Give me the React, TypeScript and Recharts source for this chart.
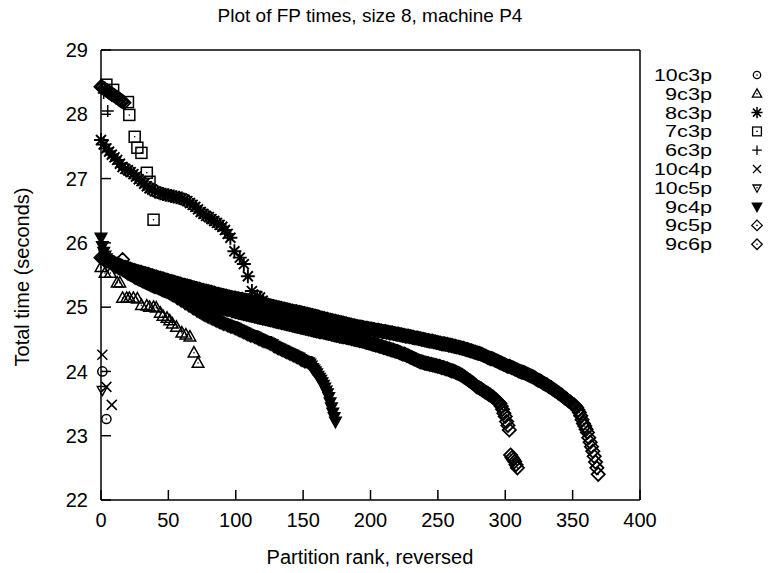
import React from "react"
import { ScatterChart, Scatter, XAxis, YAxis, Customized } from "recharts"

const FONT = "'Liberation Sans', Arial, Helvetica, sans-serif"

const xTicks = [0, 50, 100, 150, 200, 250, 300, 350, 400]
const yTicks = [22, 23, 24, 25, 26, 27, 28, 29]

// long series: one time per rank (rank = index)
const times9c6p = [
  25.77, 25.76, 25.75, 25.74, 25.73, 25.72, 25.72, 25.71, 25.70, 25.69,
  25.68, 25.67, 25.67, 25.66, 25.65, 25.64, 25.74, 25.62, 25.62, 25.61,
  25.60, 25.59, 25.59, 25.58, 25.57, 25.57, 25.56, 25.55, 25.55, 25.54,
  25.54, 25.53, 25.52, 25.52, 25.51, 25.51, 25.50, 25.49, 25.49, 25.48,
  25.47, 25.47, 25.46, 25.45, 25.45, 25.44, 25.44, 25.43, 25.42, 25.42,
  25.41, 25.40, 25.40, 25.39, 25.39, 25.38, 25.37, 25.37, 25.36, 25.36,
  25.35, 25.34, 25.34, 25.33, 25.33, 25.32, 25.32, 25.31, 25.30, 25.30,
  25.29, 25.29, 25.28, 25.28, 25.27, 25.26, 25.26, 25.25, 25.25, 25.24,
  25.24, 25.23, 25.23, 25.22, 25.22, 25.21, 25.20, 25.20, 25.19, 25.19,
  25.18, 25.18, 25.17, 25.17, 25.16, 25.16, 25.15, 25.15, 25.14, 25.14,
  25.14, 25.13, 25.13, 25.12, 25.12, 25.12, 25.11, 25.11, 25.10, 25.10,
  25.10, 25.09, 25.09, 25.08, 25.08, 25.07, 25.07, 25.06, 25.06, 25.05,
  25.05, 25.04, 25.04, 25.03, 25.03, 25.02, 25.02, 25.01, 25.01, 25.00,
  25.00, 24.99, 24.99, 24.98, 24.98, 24.97, 24.97, 24.96, 24.96, 24.95,
  24.95, 24.94, 24.94, 24.93, 24.93, 24.93, 24.92, 24.92, 24.91, 24.91,
  24.90, 24.90, 24.89, 24.89, 24.88, 24.88, 24.87, 24.87, 24.86, 24.86,
  24.85, 24.85, 24.84, 24.83, 24.83, 24.82, 24.82, 24.81, 24.81, 24.80,
  24.80, 24.79, 24.79, 24.78, 24.78, 24.77, 24.77, 24.76, 24.76, 24.75,
  24.75, 24.74, 24.74, 24.73, 24.73, 24.72, 24.72, 24.71, 24.71, 24.70,
  24.70, 24.69, 24.69, 24.69, 24.68, 24.68, 24.67, 24.67, 24.67, 24.66,
  24.66, 24.66, 24.65, 24.65, 24.64, 24.64, 24.64, 24.63, 24.63, 24.62,
  24.62, 24.62, 24.61, 24.61, 24.60, 24.60, 24.60, 24.59, 24.59, 24.58,
  24.58, 24.58, 24.57, 24.57, 24.56, 24.56, 24.55, 24.55, 24.55, 24.54,
  24.54, 24.53, 24.53, 24.52, 24.52, 24.52, 24.51, 24.51, 24.50, 24.50,
  24.49, 24.49, 24.48, 24.48, 24.47, 24.47, 24.47, 24.46, 24.46, 24.45,
  24.45, 24.44, 24.44, 24.43, 24.43, 24.43, 24.42, 24.42, 24.41, 24.41,
  24.40, 24.40, 24.39, 24.39, 24.38, 24.38, 24.37, 24.37, 24.36, 24.36,
  24.35, 24.34, 24.34, 24.33, 24.32, 24.32, 24.31, 24.30, 24.30, 24.29,
  24.28, 24.28, 24.27, 24.26, 24.25, 24.24, 24.23, 24.22, 24.21, 24.20,
  24.20, 24.19, 24.18, 24.17, 24.16, 24.15, 24.14, 24.13, 24.12, 24.11,
  24.10, 24.09, 24.08, 24.08, 24.07, 24.06, 24.05, 24.04, 24.03, 24.02,
  24.01, 24.00, 23.99, 23.99, 23.98, 23.97, 23.96, 23.95, 23.94, 23.93,
  23.92, 23.91, 23.90, 23.88, 23.87, 23.86, 23.85, 23.84, 23.82, 23.81,
  23.80, 23.79, 23.77, 23.76, 23.75, 23.73, 23.72, 23.70, 23.69, 23.67,
  23.66, 23.64, 23.63, 23.61, 23.59, 23.58, 23.56, 23.54, 23.53, 23.51,
  23.49, 23.48, 23.46, 23.44, 23.40, 23.36, 23.31, 23.25, 23.19, 23.15,
  23.10, 23.05, 22.97, 22.90, 22.83, 22.76, 22.68, 22.59, 22.50, 22.40,
]

const times9c5p = [
  28.43, 28.42, 28.40, 28.39, 28.37, 28.36, 28.34, 28.33, 28.31, 28.30,
  28.29, 28.27, 28.26, 28.24, 28.23, 28.21, 28.20, 28.18, 25.56, 25.55,
  25.53, 25.52, 25.51, 25.50, 25.49, 25.47, 25.46, 25.45, 25.44, 25.43,
  25.42, 25.41, 25.40, 25.39, 25.38, 25.37, 25.36, 25.35, 25.34, 25.33,
  25.32, 25.32, 25.31, 25.30, 25.29, 25.28, 25.27, 25.26, 25.26, 25.25,
  25.24, 25.23, 25.23, 25.22, 25.21, 25.20, 25.20, 25.19, 25.18, 25.18,
  25.17, 25.16, 25.16, 25.15, 25.14, 25.14, 25.13, 25.12, 25.12, 25.11,
  25.10, 25.10, 25.09, 25.08, 25.08, 25.07, 25.07, 25.06, 25.05, 25.05,
  25.04, 25.04, 25.03, 25.03, 25.02, 25.01, 25.01, 25.00, 25.00, 24.99,
  24.99, 24.98, 24.98, 24.97, 24.97, 24.96, 24.96, 24.95, 24.94, 24.94,
  24.93, 24.93, 24.92, 24.92, 24.91, 24.91, 24.90, 24.90, 24.89, 24.89,
  24.88, 24.88, 24.87, 24.87, 24.86, 24.86, 24.85, 24.85, 24.84, 24.84,
  24.83, 24.83, 24.82, 24.82, 24.81, 24.81, 24.80, 24.80, 24.79, 24.79,
  24.78, 24.78, 24.77, 24.77, 24.76, 24.76, 24.75, 24.75, 24.74, 24.74,
  24.73, 24.73, 24.72, 24.72, 24.71, 24.71, 24.70, 24.70, 24.69, 24.69,
  24.68, 24.68, 24.67, 24.67, 24.66, 24.66, 24.65, 24.65, 24.64, 24.64,
  24.63, 24.63, 24.62, 24.62, 24.62, 24.61, 24.61, 24.60, 24.60, 24.59,
  24.59, 24.58, 24.58, 24.57, 24.57, 24.56, 24.56, 24.55, 24.55, 24.54,
  24.54, 24.54, 24.53, 24.53, 24.52, 24.52, 24.51, 24.51, 24.50, 24.50,
  24.49, 24.49, 24.48, 24.48, 24.47, 24.47, 24.46, 24.45, 24.45, 24.44,
  24.44, 24.43, 24.42, 24.42, 24.41, 24.41, 24.40, 24.39, 24.39, 24.38,
  24.37, 24.37, 24.36, 24.35, 24.35, 24.34, 24.33, 24.33, 24.32, 24.31,
  24.31, 24.30, 24.29, 24.28, 24.27, 24.27, 24.26, 24.25, 24.24, 24.23,
  24.22, 24.21, 24.20, 24.19, 24.18, 24.17, 24.16, 24.15, 24.15, 24.14,
  24.13, 24.13, 24.12, 24.12, 24.11, 24.11, 24.10, 24.10, 24.09, 24.09,
  24.08, 24.08, 24.07, 24.06, 24.06, 24.05, 24.04, 24.04, 24.03, 24.02,
  24.01, 24.01, 24.00, 23.99, 23.98, 23.97, 23.96, 23.95, 23.94, 23.92,
  23.91, 23.89, 23.88, 23.86, 23.85, 23.83, 23.82, 23.80, 23.78, 23.76,
  23.75, 23.74, 23.73, 23.71, 23.70, 23.68, 23.67, 23.66, 23.64, 23.63,
  23.61, 23.60, 23.58, 23.56, 23.54, 23.52, 23.50, 23.46, 23.41, 23.35,
  23.30, 23.22, 23.16, 23.09, 22.70, 22.66, 22.63, 22.60, 22.55, 22.50,
]

const times9c4p = [
  26.08, 25.95, 25.86, 25.80, 25.76, 25.73, 25.71, 25.69, 25.67, 25.66,
  25.64, 25.63, 25.62, 25.61, 25.60, 25.59, 25.58, 25.57, 25.56, 25.55,
  25.53, 25.52, 25.51, 25.50, 25.49, 25.48, 25.47, 25.46, 25.46, 25.45,
  25.44, 25.43, 25.42, 25.41, 25.40, 25.39, 25.38, 25.37, 25.36, 25.35,
  25.34, 25.33, 25.32, 25.31, 25.29, 25.28, 25.27, 25.26, 25.25, 25.24,
  25.23, 25.22, 25.20, 25.19, 25.18, 25.17, 25.15, 25.14, 25.13, 25.11,
  25.10, 25.09, 25.07, 25.06, 25.05, 25.03, 25.02, 25.01, 24.99, 24.98,
  24.97, 24.95, 24.94, 24.93, 24.92, 24.90, 24.89, 24.88, 24.87, 24.86,
  24.85, 24.84, 24.83, 24.82, 24.81, 24.80, 24.79, 24.78, 24.77, 24.76,
  24.75, 24.74, 24.74, 24.73, 24.72, 24.71, 24.70, 24.70, 24.69, 24.68,
  24.67, 24.66, 24.65, 24.64, 24.63, 24.62, 24.61, 24.60, 24.59, 24.58,
  24.57, 24.56, 24.56, 24.55, 24.54, 24.53, 24.52, 24.51, 24.50, 24.49,
  24.48, 24.47, 24.47, 24.46, 24.45, 24.44, 24.43, 24.42, 24.40, 24.39,
  24.38, 24.37, 24.36, 24.35, 24.34, 24.33, 24.32, 24.31, 24.30, 24.29,
  24.28, 24.27, 24.26, 24.25, 24.24, 24.23, 24.22, 24.21, 24.19, 24.18,
  24.17, 24.16, 24.16, 24.15, 24.14, 24.12, 24.09, 24.05, 24.03, 24.00,
  23.97, 23.93, 23.90, 23.87, 23.83, 23.79, 23.75, 23.70, 23.66, 23.60,
  23.52, 23.44, 23.36, 23.29, 23.22,
]

// short series: [rank, time]
const pts8c3p: [number, number][] = [
  [0, 27.6], [2, 27.53], [4, 27.47], [6, 27.42], [8, 27.37], [10, 27.33], [12, 27.29],
  [14, 27.23], [16, 27.18], [18, 27.15], [20, 27.13], [22, 27.1], [24, 27.07], [26, 27.03],
  [28, 26.99], [30, 26.96], [32, 26.92], [34, 26.88], [36, 26.85], [38, 26.83], [40, 26.8],
  [42, 26.79], [44, 26.77], [46, 26.76], [48, 26.75], [50, 26.74], [52, 26.73], [54, 26.72],
  [56, 26.71], [58, 26.7], [60, 26.69], [62, 26.67], [64, 26.65], [66, 26.62], [68, 26.59],
  [70, 26.56], [72, 26.52], [74, 26.48], [76, 26.45], [78, 26.42], [80, 26.4], [82, 26.37],
  [84, 26.34], [86, 26.31], [88, 26.28], [90, 26.25], [92, 26.2], [94, 26.14], [96, 26.08],
  [99, 25.87], [103, 25.77], [106, 25.67], [109, 25.48], [112, 25.25], [116, 25.17],
  [118, 25.15], [120, 25.1],
]
const pts7c3p: [number, number][] = [
  [4, 28.46], [9, 28.38], [20, 28.19], [21, 27.99], [25, 27.65], [27, 27.48],
  [30, 27.4], [34, 27.09], [36, 26.95], [39, 26.36],
]
const pts6c3p: [number, number][] = [[1, 28.4], [2, 28.33], [5, 28.05]]
const pts9c3p: [number, number][] = [
  [0, 25.62], [3, 25.53], [7, 25.53], [12, 25.38], [14, 25.38], [16, 25.14], [19, 25.14],
  [21, 25.14], [24, 25.14], [27, 25.13], [30, 25.03], [34, 25.02], [36, 25.0], [39, 25.0],
  [41, 24.99], [44, 24.91], [46, 24.86], [49, 24.83], [51, 24.79], [53, 24.74], [56, 24.69],
  [60, 24.6], [63, 24.57], [66, 24.54], [69, 24.29], [72, 24.13],
]
const pts10c3p: [number, number][] = [[1, 24.0], [4, 23.26]]
const pts10c4p: [number, number][] = [[1, 24.26], [4, 23.76], [8, 23.48]]
const pts10c5p: [number, number][] = [[1, 23.71]]

type Kind = "circle" | "triangle" | "asterisk" | "square" | "plus" | "cross" | "tridown" | "tridownFill" | "diamond"

const byRank = (t: number[]) => t.map((y, x) => ({ x, y }))
const byPair = (p: [number, number][]) => p.map(([x, y]) => ({ x, y }))

const series: { name: string; kind: Kind; data: { x: number; y: number }[] }[] = [
  { name: "10c3p", kind: "circle", data: byPair(pts10c3p) },
  { name: "9c3p", kind: "triangle", data: byPair(pts9c3p) },
  { name: "8c3p", kind: "asterisk", data: byPair(pts8c3p) },
  { name: "7c3p", kind: "square", data: byPair(pts7c3p) },
  { name: "6c3p", kind: "plus", data: byPair(pts6c3p) },
  { name: "10c4p", kind: "cross", data: byPair(pts10c4p) },
  { name: "10c5p", kind: "tridown", data: byPair(pts10c5p) },
  { name: "9c4p", kind: "tridownFill", data: byRank(times9c4p) },
  { name: "9c5p", kind: "diamond", data: byRank(times9c5p) },
  { name: "9c6p", kind: "diamond", data: byRank(times9c6p) },
]

const SW = 1.5

function Marker({ kind, cx, cy, small }: { kind: Kind; cx: number; cy: number; small?: boolean }) {
  const k = small ? 0.8 : 1
  const st = { stroke: "#000", strokeWidth: small ? 1.3 : SW, fill: "none" }
  const dot = <circle cx={cx} cy={cy} r={0.8} fill="#000" />
  switch (kind) {
    case "circle":
      return <g><circle cx={cx} cy={cy} r={4.6 * k} {...st} />{dot}</g>
    case "triangle":
      return <g><polygon points={`${cx},${cy - 6.2 * k} ${cx + 5.8 * k},${cy + 4.2 * k} ${cx - 5.8 * k},${cy + 4.2 * k}`} {...st} />{dot}</g>
    case "tridown":
      return <g><polygon points={`${cx},${cy + 5.5 * k} ${cx + 5 * k},${cy - 3.5 * k} ${cx - 5 * k},${cy - 3.5 * k}`} {...st} />{dot}</g>
    case "tridownFill":
      return <polygon points={`${cx},${cy + 6.5 * k} ${cx + 6 * k},${cy - 4.5 * k} ${cx - 6 * k},${cy - 4.5 * k}`} fill="#000" stroke="#000" strokeWidth={1.2} />
    case "square":
      return <g><rect x={cx - 5.5 * k} y={cy - 5.5 * k} width={11 * k} height={11 * k} {...st} />{dot}</g>
    case "diamond":
      return (
        <g>
          <polygon
            points={`${cx},${cy - 6.6 * k} ${cx + 6.6 * k},${cy} ${cx},${cy + 6.6 * k} ${cx - 6.6 * k},${cy}`}
            {...st}
            strokeWidth={small ? 1.3 : 1.8}
          />
          {dot}
        </g>
      )
    case "plus":
      return <path d={`M${cx - 6 * k},${cy}H${cx + 6 * k}M${cx},${cy - 6 * k}V${cy + 6 * k}`} {...st} />
    case "cross":
      return <path d={`M${cx - 5 * k},${cy - 5 * k}L${cx + 5 * k},${cy + 5 * k}M${cx - 5 * k},${cy + 5 * k}L${cx + 5 * k},${cy - 5 * k}`} {...st} />
    case "asterisk":
      return (
        <path
          d={`M${cx - 7 * k},${cy}H${cx + 7 * k}M${cx},${cy - 7 * k}V${cy + 7 * k}M${cx - 5 * k},${cy - 5 * k}L${cx + 5 * k},${cy + 5 * k}M${cx - 5 * k},${cy + 5 * k}L${cx + 5 * k},${cy - 5 * k}`}
          stroke="#000"
          strokeWidth={small ? 1.5 : 1.9}
          fill="none"
        />
      )
  }
  return null
}

function Texts() {
  return (
    <g fontFamily={FONT} fill="#000">
      <text x={370} y={22} textAnchor="middle" fontSize={19}>Plot of FP times, size 8, machine P4</text>
      <text x={370} y={564} textAnchor="middle" fontSize={20}>Partition rank, reversed</text>
      <text x={0} y={0} transform="translate(29,277) rotate(-90)" textAnchor="middle" fontSize={20}>
        Total time (seconds)
      </text>
      {series.map((s, i) => (
        <g key={s.name}>
          <text x={712} y={75 + i * 18.8 + 6} textAnchor="end" fontSize={16.3} textLength={s.name.length === 5 ? 58 : 47} lengthAdjust="spacingAndGlyphs">
            {s.name}
          </text>
          <Marker kind={s.kind} cx={757} cy={75 + i * 18.8} small />
        </g>
      ))}
    </g>
  )
}

const tickFont = { fill: "#000", fontSize: 20, fontFamily: FONT }
const lineStyle = { stroke: "#000", strokeWidth: 1.5 }

export default function App() {
  return (
    <div style={{ position: "absolute", left: 0, top: 0, background: "#fff" }}>
      <ScatterChart width={770} height={573} margin={{ top: 30, right: 110, bottom: 43, left: 41 }}>
        <XAxis
          type="number"
          dataKey="x"
          domain={[0, 400]}
          ticks={xTicks}
          interval={0}
          height={30}
          tickSize={-10}
          tickMargin={23}
          tick={tickFont}
          axisLine={lineStyle}
          tickLine={lineStyle}
        />
        <XAxis
          xAxisId="top"
          orientation="top"
          type="number"
          domain={[0, 400]}
          ticks={xTicks}
          interval={0}
          height={20}
          tickSize={-10}
          tick={false}
          axisLine={lineStyle}
          tickLine={lineStyle}
        />
        <YAxis
          type="number"
          dataKey="y"
          domain={[22, 29]}
          ticks={yTicks}
          interval={0}
          width={60}
          tickSize={-10}
          tickMargin={23}
          tick={tickFont}
          axisLine={lineStyle}
          tickLine={lineStyle}
        />
        <YAxis
          yAxisId="right"
          orientation="right"
          type="number"
          domain={[22, 29]}
          ticks={yTicks}
          interval={0}
          width={20}
          tickSize={-10}
          tick={false}
          axisLine={lineStyle}
          tickLine={lineStyle}
        />
        {series.map((s) => (
          <Scatter
            key={s.name}
            name={s.name}
            data={s.data}
            isAnimationActive={false}
            shape={(p: any) => <Marker kind={s.kind} cx={p.cx} cy={p.cy} />}
          />
        ))}
        <Customized component={Texts} />
      </ScatterChart>
    </div>
  )
}
